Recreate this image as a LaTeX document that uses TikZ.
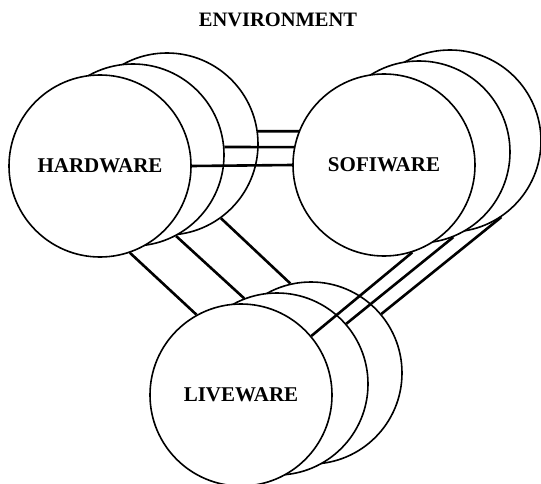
\documentclass[tikz,border=0pt]{standalone}
\usepackage{fontspec}
\setmainfont{Liberation Serif}
\begin{document}
\begin{tikzpicture}[x=1pt,y=-1pt,disc/.style={circle,draw,fill=white,line width=1.6pt,minimum size=182pt,inner sep=0pt,font=\fontsize{21}{22}\selectfont\bfseries},wire/.style={line width=2.6pt}]
  \useasboundingbox (0,0) rectangle (541,484);
  \node[font=\fontsize{20.5}{22}\selectfont\bfseries] (env) at (278,20) {ENVIRONMENT};

  % back layer
  \node[disc] (H3) at (167,144) {};
  \node[disc] (S3) at (450,141) {};
  \node[disc] (L3) at (311,373) {};
\path[wire] (H3.8) edge (S3.174)
      (H3.-54) edge (L3.103)
      (S3.-56) edge (L3.40);

  % middle layer
  \node[disc] (H2) at (133,155) {};
  \node[disc] (S2) at (419,152) {};
  \node[disc] (L2) at (277,384) {};
\path[wire] (H2.5) edge (S2.177)
      (H2.-62) edge (L2.111)
      (S2.-68) edge (L2.41);

  % front layer
  \node[disc] (H1) at (100,166) {HARDWARE};
  \node[disc] (S1) at (384,165) {SOFIWARE};
  \node[disc] (L1) at (241,395) {LIVEWARE};
\path[wire] (H1.0) edge (S1.180)
      (H1.-71) edge (L1.119)
      (S1.-72) edge (L1.40);
\end{tikzpicture}
\end{document}
